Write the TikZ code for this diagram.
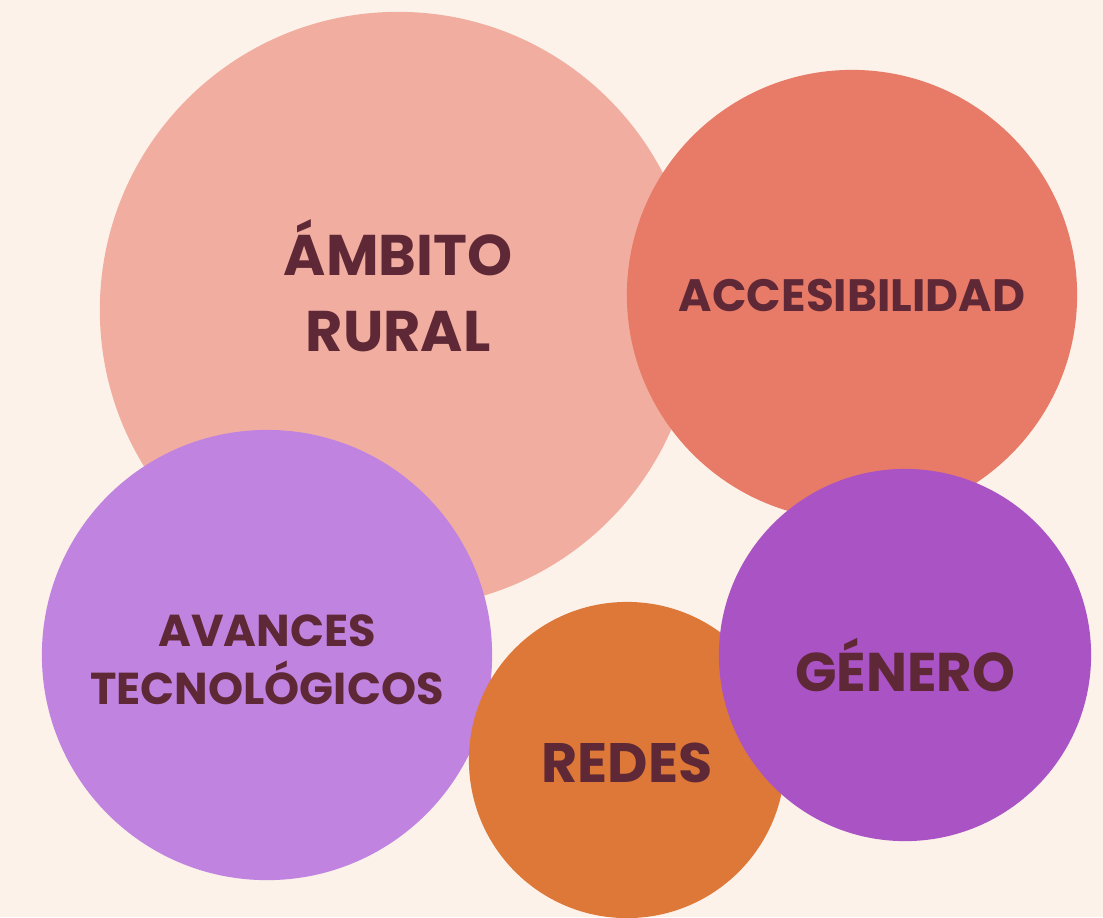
\documentclass[tikz,border=0pt]{standalone}
\usepackage{fontspec}
\setmainfont{Poppins}
\usetikzlibrary{calc}
\definecolor{cream}{HTML}{FCF2EA}
\definecolor{rosa}{HTML}{F1AEA0}
\definecolor{salmon}{HTML}{E87B67}
\definecolor{lila}{HTML}{C084E0}
\definecolor{naranja}{HTML}{DE7838}
\definecolor{morado}{HTML}{A953C4}
\definecolor{vino}{HTML}{5E2836}

\begin{document}
\begin{tikzpicture}[x=0.01cm,y=-0.01cm,
     bubble/.style={circle,inner sep=0pt,minimum size=#1},
     tag/.style={text=vino,align=center,inner sep=0pt}]
     %\draw[step=50,very thin,color=blue!20] (0,0) grid (1103,917);
     \useasboundingbox (0,0) rectangle (1103,917);
     \clip (0,0) rectangle (1103,917);
     \fill[cream] (0,0) rectangle (1103,917);

     \coordinate (R) at (398,310);
     \coordinate (A) at (852,295);
     \coordinate (T) at (267,655);
     \coordinate (N) at (627,760);
     \coordinate (G) at (905,655);

     \node[bubble=5.96cm,fill=rosa] (rural) at (R) {};
     \node[bubble=4.50cm,fill=salmon] (acces) at (A) {};
     \node[bubble=4.50cm,fill=lila] (avances) at (T) {};
     \node[bubble=3.16cm,fill=naranja] (redes) at (N) {};
     \node[bubble=3.72cm,fill=morado] (genero) at (G) {};

     \node[tag,font=\bfseries\fontsize{16.3}{21.6}\selectfont] (ruralT) at ($(rural.center)+(0,-24)$) {ÁMBITO\\RURAL};
     \node[tag,font=\bfseries\fontsize{12.9}{16}\selectfont] (accesT) at ($(acces.center)+(0,0)$) {ACCESIBILIDAD};
     \node[tag,font=\bfseries\fontsize{12.7}{16.5}\selectfont] (avancesT) at ($(avances.center)+(0,5)$) {AVANCES\\TECNOLÓGICOS};
     \node[tag,font=\bfseries\fontsize{15.8}{18}\selectfont] (redesT) at ($(redes.center)+(0,3)$) {REDES};
     \node[tag,font=\bfseries\fontsize{15.5}{18}\selectfont] (generoT) at ($(genero.center)+(0,10)$) {GÉNERO};

  \end{tikzpicture}
\end{document}
